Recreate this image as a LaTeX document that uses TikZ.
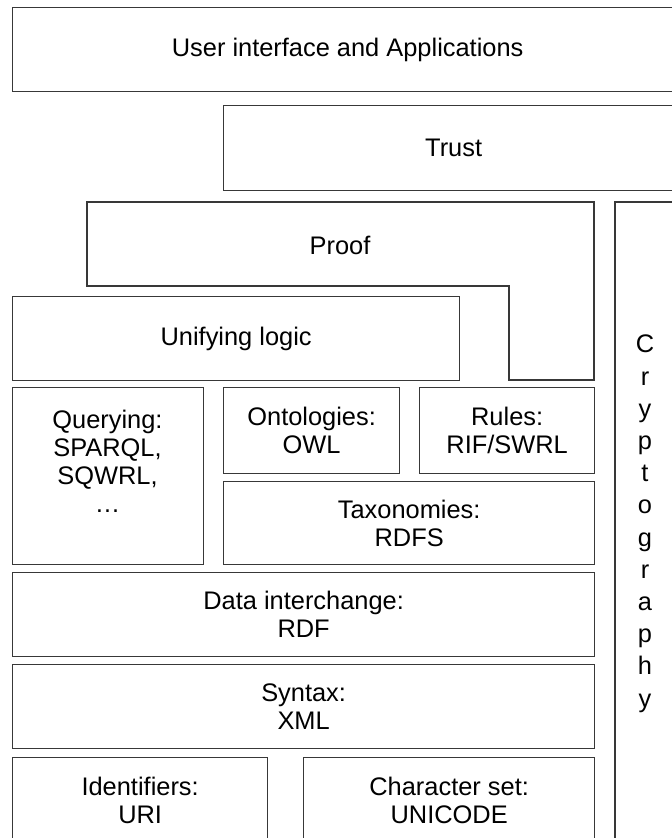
\documentclass[tikz,border=0pt]{standalone}
\usepackage{fontspec}
\setmainfont{Liberation Sans}
\begin{document}
\begin{tikzpicture}[x=1pt,y=-1pt,
  layer/.style={draw=black!78, line width=1.3pt, inner sep=0pt, anchor=north west,
    align=center, font=\fontsize{25.4}{28}\selectfont},
  outline/.style={draw=black!78, line width=1.3pt},
  lbl/.style={inner sep=0pt, align=center, font=\fontsize{25.4}{28}\selectfont}]
\useasboundingbox (0,0) rectangle (672,838);
\clip (0,0) rectangle (672,838);
\fill[white] (0,0) rectangle (672,838);

% top layers, running past the right edge
\node[layer, minimum width=670pt, minimum height=84pt] (ui) at (12,7) {User interface and Applications};
\node[layer, minimum width=460pt, minimum height=85pt] (trust) at (223,105) {Trust};

% proof: L-shaped layer wrapping round unifying logic
\draw[outline] (87,202) -- (594,202) -- (594,380) -- (509,380) -- (509,286) -- (87,286) -- cycle;
\node[lbl] (proof) at (340,245) {Proof};

\node[layer, minimum width=447pt, minimum height=84pt] (logic) at (12,296) {Unifying logic};

% cryptography column on the right
\draw[outline] (615,860) -- (615,202) -- (690,202);
\node[lbl, font=\fontsize{25.4}{32.2}\selectfont, anchor=north] (crypto) at (645,335)
  {C\\r\\y\\p\\t\\o\\g\\r\\a\\p\\h\\y};

% middle layers
\node[layer, minimum width=191pt, minimum height=177pt] (query) at (12,387) {};
\node[lbl, anchor=north] (querytext) at (107.5,410) {Querying:\\SPARQL,\\SQWRL,\\…};
\node[layer, minimum width=176pt, minimum height=86pt] (onto) at (223,387) {Ontologies:\\OWL};
\node[layer, minimum width=175pt, minimum height=86pt] (rules) at (419,387) {Rules:\\RIF/SWRL};
\node[layer, minimum width=371pt, minimum height=83pt] (tax) at (223,481) {Taxonomies:\\RDFS};

% lower layers
\node[layer, minimum width=582pt, minimum height=84pt] (rdf) at (12,572) {Data interchange:\\RDF};
\node[layer, minimum width=582pt, minimum height=84pt] (xml) at (12,664) {Syntax:\\XML};
\node[layer, minimum width=255pt, minimum height=86pt] (uri) at (12,757) {Identifiers:\\URI};
\node[layer, minimum width=291pt, minimum height=86pt] (unicode) at (303,757) {Character set:\\UNICODE};
\end{tikzpicture}
\end{document}
